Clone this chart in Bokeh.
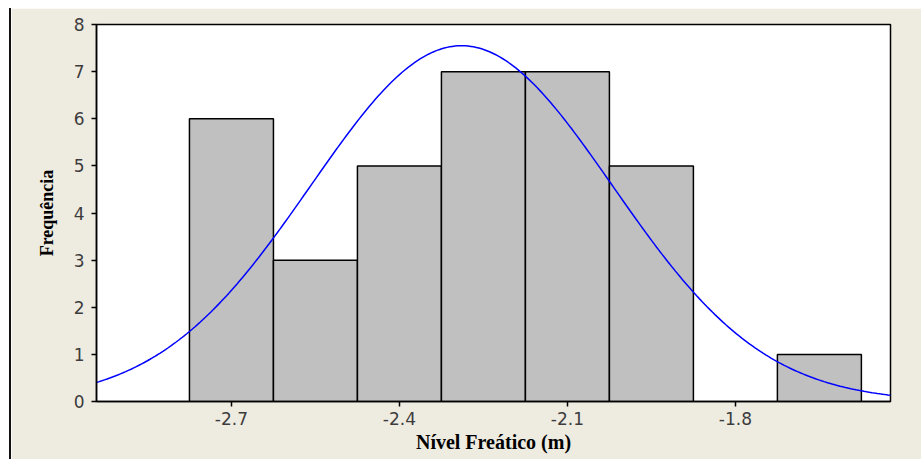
import numpy as np
from bokeh.plotting import figure
from bokeh.models import FixedTicker, Range1d, Spacer, Div
from bokeh.layouts import column, row
from bokeh.embed import file_html
from bokeh.resources import INLINE

# Histogram of water-table level (m), bin width 0.15
bin_centers = [-2.70, -2.55, -2.40, -2.25, -2.10, -1.95, -1.80, -1.65]
counts = [6, 3, 5, 7, 7, 5, 0, 1]
bin_width = 0.15

# Fitted normal distribution parameters
fit_mean = -2.289
fit_sd = 0.2695

x_ticks = [-2.7, -2.4, -2.1, -1.8]
x_tick_labels = ["-2.7", "-2.4", "-2.1", "-1.8"]
y_ticks = [0, 1, 2, 3, 4, 5, 6, 7, 8]

BG = "#EEEBE1"

p = figure(width=910, height=451, output_backend="svg", toolbar_location=None,
           x_range=Range1d(-2.941, -1.523), y_range=Range1d(0, 8),
           min_border_left=85, min_border_right=31, min_border_top=16, min_border_bottom=58)
p.background_fill_color = "white"
p.border_fill_color = BG
p.outline_line_color = "black"
p.outline_line_width = 1.5
p.grid.visible = False

n_total = sum(counts)
lefts = [c - bin_width / 2 for c in bin_centers]
rights = [c + bin_width / 2 for c in bin_centers]
nz = [i for i, c in enumerate(counts) if c > 0]
p.quad(left=[lefts[i] for i in nz], right=[rights[i] for i in nz],
       bottom=0, top=[counts[i] for i in nz],
       fill_color="#C0C0C0", line_color="black", line_width=1.5)

xs = np.linspace(-2.941, -1.523, 300)
ys = n_total * bin_width / (fit_sd * np.sqrt(2 * np.pi)) * np.exp(-0.5 * ((xs - fit_mean) / fit_sd) ** 2)
p.line(xs, ys, line_color="#0000FF", line_width=1.5)

for ax in (p.xaxis[0], p.yaxis[0]):
    ax.axis_line_color = "black"
    ax.axis_line_width = 1.5
    ax.major_tick_line_color = "black"
    ax.major_tick_line_width = 1.5
    ax.major_tick_in = 0
    ax.major_tick_out = 5
    ax.minor_tick_line_color = None
    ax.major_label_text_font = "DejaVu Sans"
    ax.major_label_text_font_size = "17px"
    ax.major_label_text_color = "#3c3c3c"
    ax.axis_label_text_font = "Liberation Serif"
    ax.axis_label_text_font_style = "bold"
    ax.axis_label_text_color = "black"

p.xaxis.ticker = FixedTicker(ticks=x_ticks)
p.xaxis.major_label_overrides = dict(zip(x_ticks, x_tick_labels))
p.yaxis.ticker = FixedTicker(ticks=y_ticks)
p.xaxis.axis_label = "Nível Freático (m)"
p.yaxis.axis_label = "Frequência"
p.xaxis.axis_label_text_font_size = "20px"
p.yaxis.axis_label_text_font_size = "18px"
p.xaxis.major_label_standoff = 5
p.yaxis.major_label_standoff = 7
p.xaxis.axis_label_standoff = 3
p.yaxis.axis_label_standoff = 14

bar = Div(text="", width=2, height=451, styles={"background-color": "#111111"}, margin=0)
layout = column(Spacer(width=921, height=8, margin=0),
                row(Spacer(width=9, height=451, margin=0), bar, p, spacing=0),
                spacing=0)

open("out.html", "w").write(file_html(layout, INLINE))
